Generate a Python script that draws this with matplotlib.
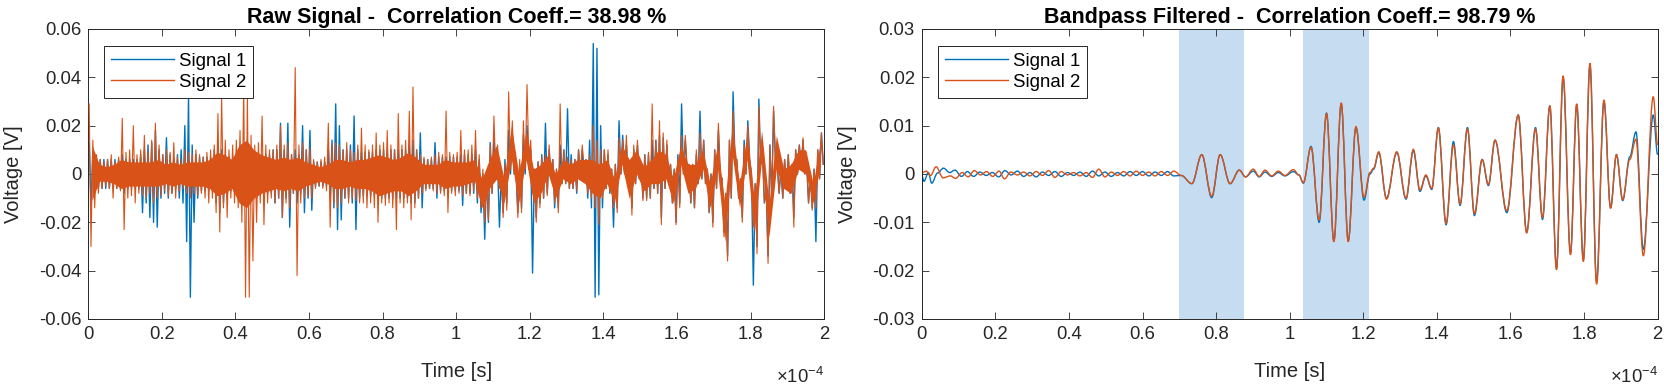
import numpy as np
import matplotlib
matplotlib.use("Agg")
import matplotlib.pyplot as plt
from matplotlib.ticker import FuncFormatter, MultipleLocator
from matplotlib.path import Path
from matplotlib.patches import PathPatch
from matplotlib.lines import Line2D

plt.rcParams['font.family'] = ['Liberation Sans', 'DejaVu Sans']
plt.rcParams['mathtext.fontset'] = 'custom'
plt.rcParams['mathtext.rm'] = 'Liberation Sans'

# ---------------- data ----------------
# Raw signals: max / min per 1-microsecond bin (mV), 200 bins over 0..2e-4 s
raw_s1_hi = [13, 10, 6, 6, 6, 6, 6, 6, 6, 8,
             6, 6, 6, 6, 8, 10, 12, 13, 18, 10,
             8, 15, 8, 6, 8, 10, 20, 32, 12, 8,
             7, 7, 7, 7, 10, 14, 10, 8, 7, 7,
             7, 10, 10, 10, 10, 8, 8, 8, 8, 8,
             10, 10, 21, 10, 21, 8, 10, 8, 20, 10,
             18, 5, 5, 5, 5, 10, 14, 29, 20, 10,
             10, 12, 24, 10, 9, 9, 9, 9, 10, 10,
             10, 10, 10, 10, 10, 10, 10, 12, 14, 10,
             17, 6, 6, 6, 13, 7, 7, 7, 7, 7,
             7, 8, 8, 8, 8, 10, 6, 0, 0, 13,
             16, 4, 0, 6, 18, 16, 0, 4, 16, 20,
             10, 2, 5, 8, 21, 10, 6, 2, 12, 10,
             27, 8, 6, 10, 10, 6, 14, 54, 52, 20,
             10, 8, 2, 4, 22, 16, 12, 4, 10, 12,
             4, 8, 8, 14, 14, 16, 15, 12, 4, 2,
             8, 29, 14, 4, 4, 8, 26, 14, 2, 0,
             10, 18, -2, -8, 14, 34, 6, -2, 14, 22,
             0, -4, 31, 8, -6, 12, 26, 4, 2, 6,
             8, 4, 10, 12, 14, 4, 0, 2, 10, 17]
raw_s1_lo = [-13, -8, -6, -6, -6, -6, -6, -6, -6, -8,
             -6, -6, -6, -6, -16, -12, -18, -20, -22, -10,
             -8, -10, -8, -6, -10, -12, -28, -51, -20, -10,
             -7, -7, -7, -7, -12, -16, -12, -10, -7, -7,
             -7, -10, -10, -10, -10, -8, -8, -8, -8, -8,
             -12, -10, -18, -10, -22, -8, -12, -8, -16, -10,
             -15, -5, -5, -5, -5, -10, -14, -23, -19, -10,
             -10, -12, -23, -10, -9, -9, -9, -9, -10, -10,
             -10, -10, -10, -10, -10, -10, -10, -12, -12, -10,
             -14, -6, -6, -6, -10, -7, -7, -7, -7, -7,
             -7, -13, -8, -8, -8, -12, -16, -27, -20, -8,
             -2, -22, -16, -12, 0, 0, -16, -14, 0, 2,
             -41, -18, -12, -10, -8, -2, -14, -14, -4, -4,
             -6, -6, -8, -2, 0, -10, -14, -51, -50, -14,
             -6, -8, -22, -14, 0, 0, -4, -14, -4, -2,
             -10, -10, -10, -6, -8, -18, -6, -4, -12, -20,
             -12, 0, 2, -12, -14, -4, -2, -4, -16, -20,
             -6, 0, -24, -34, -10, 6, -10, -18, 0, 6,
             -46, -30, 4, -12, -34, -10, 6, -8, -10, -6,
             -8, -18, 0, 2, 0, -12, -14, -28, -2, 4]
raw_s2_hi = [29, 14, 8, 6, 5, 6, 8, 5, 7, 23,
             9, 10, 20, 8, 10, 16, 9, 14, 21, 12,
             8, 10, 9, 13, 7, 6, 10, 9, 8, 10,
             8, 7, 9, 10, 12, 25, 32, 14, 10, 12,
             14, 18, 36, 33, 16, 12, 13, 24, 12, 10,
             10, 12, 20, 12, 13, 8, 44, 12, 13, 10,
             11, 6, 5, 6, 7, 21, 12, 13, 12, 10,
             13, 10, 9, 12, 19, 12, 10, 12, 17, 12,
             13, 18, 12, 10, 25, 12, 14, 26, 36, 10,
             8, 7, 6, 7, 8, 9, 8, 26, 9, 8,
             9, 18, 10, 10, 12, 18, 8, 2, 0, 12,
             24, 12, 0, 4, 34, 22, 2, 6, 22, 37,
             14, 2, 5, 7, 8, 12, 6, 2, 29, 10,
             7, 6, 6, 10, 12, 6, 8, 20, 14, 10,
             10, 10, 2, 4, 15, 14, 16, 4, 12, 14,
             4, 8, 9, 29, 14, 22, 17, 14, 4, 2,
             6, 16, 16, 4, 4, 10, 17, 14, 2, 0,
             10, 21, -2, -8, 14, 26, 6, -2, 12, 20,
             0, -4, 28, 8, -6, 12, 28, 4, 2, 6,
             8, 4, 10, 12, 15, 4, 0, 2, 10, 17]
raw_s2_lo = [-30, -14, -8, -6, -5, -6, -10, -6, -7, -23,
             -10, -9, -12, -8, -9, -10, -8, -12, -10, -9,
             -7, -9, -8, -10, -7, -6, -8, -10, -8, -9,
             -8, -10, -12, -10, -16, -24, -14, -18, -10, -12,
             -14, -20, -51, -51, -36, -20, -12, -21, -12, -10,
             -12, -10, -18, -12, -14, -8, -42, -12, -10, -9,
             -10, -6, -5, -6, -7, -22, -12, -14, -12, -10,
             -12, -10, -11, -12, -12, -14, -12, -14, -20, -12,
             -13, -12, -14, -23, -12, -14, -12, -19, -14, -10,
             -8, -7, -6, -7, -8, -8, -9, -16, -8, -9,
             -8, -9, -8, -9, -7, -10, -14, -20, -19, -8,
             0, -6, -18, -15, 2, 0, -18, -16, 2, 5,
             -8, -20, -14, -10, -9, -2, -12, -16, -4, -4,
             -6, -6, -7, -2, 2, -8, -10, -14, -21, -10,
             -6, -7, -14, -16, 0, 0, -4, -17, -4, -2,
             -11, -11, -10, -6, -8, -21, -6, -4, -12, -21,
             -14, 0, 2, -12, -14, -4, -2, -4, -16, -22,
             -6, 0, -26, -36, -10, 6, -10, -20, 0, 6,
             -22, -33, 4, -12, -37, -10, 6, -8, -10, -6,
             -8, -22, 0, 2, 0, -12, -15, -14, -2, 4]
# Dense core of Signal 2 (upper / lower edge, mV) per 2-microsecond bin
raw_s2_core_hi = [12, 4, 3, 4, 6, 5, 5, 5, 5, 6,
                  4, 5, 4, 5, 5, 5, 6, 9, 8, 6,
                  12, 14, 10, 8, 7, 6, 7, 6, 7, 5,
                  4, 3, 4, 6, 6, 5, 6, 6, 7, 8,
                  7, 6, 7, 9, 7, 4, 4, 4, 6, 5,
                  5, 5, 6, -2, 6, 12, -2, 20, 0, 18,
                  2, 4, 8, 0, 6, 4, 6, 6, 6, 4,
                  6, -2, 12, 6, 10, 3, 6, 10, 8, -2,
                  12, 4, 4, 10, -4, 12, -12, 20, -4, 16,
                  -10, 18, -12, 16, 2, 4, 10, 10, -4, 14]
raw_s2_core_lo = [-11, -3, -3, -4, -6, -5, -5, -5, -5, -5,
                  -4, -5, -4, -5, -5, -5, -6, -9, -8, -6,
                  -12, -14, -10, -8, -7, -6, -7, -6, -7, -5,
                  -4, -3, -4, -6, -6, -5, -6, -6, -7, -9,
                  -8, -7, -7, -9, -7, -4, -4, -4, -6, -5,
                  -5, -4, -3, -14, -6, -2, -12, 6, -12, 6,
                  -12, -8, 0, -10, -2, -4, -2, -4, -8, -10,
                  -4, -12, 4, -10, 0, -7, -4, -4, -2, -12,
                  4, -8, -6, 2, -14, 2, -28, 8, -14, 6,
                  -24, 6, -26, 2, -6, -8, 2, 0, -12, 4]

# Bandpass filtered signals: turning points (time in microseconds, value in mV)
filt_s1_early_t = [0, 0.6, 1.8, 2.7, 4.3, 5.9, 7.6, 9.0, 10.8, 12.4, 14.1, 15.8,
                   17.5, 19.2, 20.9, 22.6, 24.3, 26.0, 27.7, 29.4, 31.1, 32.8,
                   34.5, 36.2, 37.9, 39.6, 41.3, 43.0, 44.7, 46.4, 48.1, 49.8,
                   51.5, 53.2, 54.9, 56.6, 58.3, 60.0, 61.7, 63.4, 65.1, 66.8, 68.5]
filt_s1_early_v = [-0.2, -1.5, 0.3, -1.9, 0.2, 1.2, 0.3, 0.8, -0.5, 0.5, -0.5, 0.4,
                   -0.3, 0.3, -0.6, 0.7, -0.2, 0.6, -0.5, 0.3, -0.6, 0.4,
                   -0.3, 0.5, -0.5, 0.3, -0.3, 0.4, -0.5, 0.6, -0.4, 0.4,
                   -0.5, 0.3, -0.4, 0.5, -0.3, 0.5, -0.4, 0.4, -0.3, 0.5, -0.4]
filt_s2_early_t = [0, 1.2, 2.4, 3.9, 5.8, 7.8, 9.2, 11.0, 12.6, 14.3, 16.0, 17.6,
                   19.3, 21.0, 22.5, 24.2, 26.0, 27.7, 29.4, 31.1, 32.8, 34.5,
                   36.2, 37.9, 39.6, 41.3, 43.0, 44.7, 46.4, 48.1, 49.8, 51.5,
                   53.2, 54.9, 56.6, 58.3, 60.0, 61.7, 63.4, 65.1, 66.8, 68.5]
filt_s2_early_v = [0.2, 0.6, -0.3, 1.5, -0.8, -0.4, -0.9, 0.3, -0.6, 0.7, -0.2, 0.5,
                   -0.5, 0.6, -1.0, 0.4, -0.2, 0.4, -0.4, 0.5, -0.3, 0.7,
                   -0.7, 0.5, -0.2, 0.3, -0.4, 0.3, -0.7, 1.0, -0.6, 0.4,
                   -0.3, 0.5, -0.4, 0.6, -0.3, 0.4, -0.4, 0.5, -0.3, 0.6]
filt_late_t = [70.5, 73.4, 76.1, 78.8, 81.1, 83.8, 86.3, 88.0, 90.1, 91.7, 93.3,
               95.1, 96.9, 98.7, 101.0, 102.5, 103.7, 105.8, 108.0, 110.0, 112.0,
               114.0, 115.9, 118.0, 120.2, 121.8, 122.8, 124.2, 126.3, 129.1,
               131.6, 133.6, 135.4, 137.0, 138.6, 140.4, 142.5, 144.5, 146.3,
               148.3, 150.2, 152.3, 154.0, 155.8, 159.0, 162.1, 164.4, 166.8,
               168.7, 170.7, 172.5, 174.3, 176.3, 178.0, 179.8, 181.6, 183.4,
               185.4, 187.2, 188.8, 190.5, 192.4, 194.1, 196.1, 198.8, 200.0]
filt_s1_late_v = [-0.3, -2.0, 4.0, -4.9, 4.0, -2.0, 0.8, -0.6, 0.6, -0.6, 0.4,
                  -0.5, 0.3, -0.4, 0.5, -0.2, -1.9, 5.7, -10.0, 12.6, -13.8,
                  14.5, -13.8, 9.6, -5.4, 0.0, 1.0, 4.4, -5.0, 4.4,
                  -5.2, 4.8, -3.6, -0.4, -3.2, 9.6, -10.5, 6.7, -6.5,
                  9.6, -8.6, 3.0, -2.4, 7.0, -8.0, 12.2, -12.0, 9.6,
                  -9.4, 14.1, -19.5, 20.0, -16.4, 14.3, -17.8, 22.5, -22.3,
                  15.0, -7.0, 4.0, -5.5, 3.5, 8.7, -15.6, 12.2, 4.0]
filt_s2_late_v = [-0.3, -2.0, 4.0, -4.6, 4.0, -2.0, 0.8, -0.6, 1.0, -0.5, 0.8,
                  -0.4, 0.6, -0.3, 0.9, -0.2, -1.8, 5.5, -9.5, 12.5, -14.0,
                  14.7, -14.0, 9.8, -4.8, 0.3, 1.2, 4.6, -5.2, 4.6,
                  -5.0, 5.1, -3.3, -0.2, -3.0, 9.5, -10.2, 6.0, -6.2,
                  9.3, -8.2, 3.0, -2.2, 7.0, -7.6, 12.2, -12.2, 9.3,
                  -9.0, 14.1, -19.8, 20.3, -16.7, 14.5, -18.1, 22.9, -22.8,
                  15.3, -7.1, 4.0, -5.3, 3.0, 7.2, -16.9, 16.0, 6.0]

highlight_windows = [(0.70, 0.875), (1.035, 1.215)]   # x 1e-4 s

titles = ["Raw Signal -  Correlation Coeff.= 38.98 %",
          "Bandpass Filtered -  Correlation Coeff.= 98.79 %"]
legend_labels = ["Signal 1", "Signal 2"]

# ---------------- styling ----------------
C1 = '#0072BD'
C2 = '#D95319'
AXC = '#262626'
SPAN = '#C6DCF1'

fig = plt.figure(figsize=(16.65, 3.86), dpi=100)
ax1 = fig.add_axes([0.0530, 0.1736, 0.4420, 0.7513])
ax2 = fig.add_axes([0.5536, 0.1736, 0.4420, 0.7513])

# raw: max/min trace per bin, plus dense core band of signal 2
bins = np.arange(len(raw_s1_hi), dtype=float)
t_raw = np.column_stack([bins + 0.25, bins + 0.75]).ravel() * 1e-6
y1_raw = np.column_stack([raw_s1_hi, raw_s1_lo]).ravel() * 1e-3
y2_raw = np.column_stack([raw_s2_hi, raw_s2_lo]).ravel() * 1e-3
ax1.plot(t_raw, y1_raw, color=C1, lw=1.0, zorder=2)
cbins = np.arange(len(raw_s2_core_hi), dtype=float)
t_core = (cbins * 2 + 1) * 1e-6
ax1.fill_between(t_core, np.asarray(raw_s2_core_lo) * 1e-3,
                 np.asarray(raw_s2_core_hi) * 1e-3, color=C2, lw=0, zorder=3)
ax1.plot(t_raw, y2_raw, color=C2, lw=0.8, zorder=3)


def turning_point_path(t, v):
    """Smooth trace through turning points (horizontal tangent at each)."""
    verts = [(t[0], v[0])]
    codes = [Path.MOVETO]
    for i in range(len(t) - 1):
        d = (t[i + 1] - t[i]) * 0.36
        verts += [(t[i] + d, v[i]), (t[i + 1] - d, v[i + 1]), (t[i + 1], v[i + 1])]
        codes += [Path.CURVE4] * 3
    return Path(verts, codes)


# filtered
t_f1 = np.array(filt_s1_early_t + filt_late_t) * 1e-6
v_f1 = np.array(filt_s1_early_v + filt_s1_late_v) * 1e-3
t_f2 = np.array(filt_s2_early_t + filt_late_t) * 1e-6
v_f2 = np.array(filt_s2_early_v + filt_s2_late_v) * 1e-3
for a, b in highlight_windows:
    ax2.axvspan(a * 1e-4, b * 1e-4, color=SPAN, lw=0, zorder=0)
for t, v, col in [(t_f1, v_f1, C1), (t_f2, v_f2, C2)]:
    ax2.add_patch(PathPatch(turning_point_path(t, v), facecolor='none',
                            edgecolor=col, lw=1.0, zorder=2))

xfmt = FuncFormatter(lambda v, p: f"{v * 1e4:g}")
yfmt = FuncFormatter(lambda v, p: f"{v:g}" if abs(v) > 1e-12 else "0")

handles = [Line2D([], [], color=C1, lw=1.0), Line2D([], [], color=C2, lw=1.0)]

for ax, lim, step, title in [(ax1, 0.06, 0.02, titles[0]), (ax2, 0.03, 0.01, titles[1])]:
    ax.set_xlim(0, 2e-4)
    ax.set_ylim(-lim, lim)
    ax.xaxis.set_major_locator(MultipleLocator(0.2e-4))
    ax.yaxis.set_major_locator(MultipleLocator(step))
    ax.xaxis.set_major_formatter(xfmt)
    ax.yaxis.set_major_formatter(yfmt)
    ax.tick_params(direction='in', length=5, width=0.6, top=True, right=True,
                   colors=AXC, labelsize=13.3, pad=5)
    for s in ax.spines.values():
        s.set_color(AXC)
        s.set_linewidth(0.7)
    ax.set_title(title, fontsize=15.5, fontweight='bold', pad=4.5, color='black')
    ax.set_xlabel('Time [s]', fontsize=14.5, color=AXC, labelpad=14)
    ax.set_ylabel('Voltage [V]', fontsize=14.5, color=AXC)
    ax.yaxis.set_label_coords(-0.088, 0.5)
    ax.text(1.0, -0.222, '\u00d710$^{\\mathregular{-4}}$', transform=ax.transAxes,
            ha='right', va='baseline', fontsize=13.3, color=AXC)
    leg = ax.legend(handles, legend_labels, loc='upper left',
                    bbox_to_anchor=(0.0215, 0.942), borderaxespad=0,
                    fontsize=13.4, handlelength=3.4, handletextpad=0.25, labelspacing=0.2,
                    borderpad=0.38, fancybox=False, framealpha=1, edgecolor=AXC)
    leg.get_frame().set_linewidth(0.7)
    leg.set_zorder(5)
    for txt in leg.get_texts():
        txt.set_color('black')

fig.savefig('out.png', dpi=100)
